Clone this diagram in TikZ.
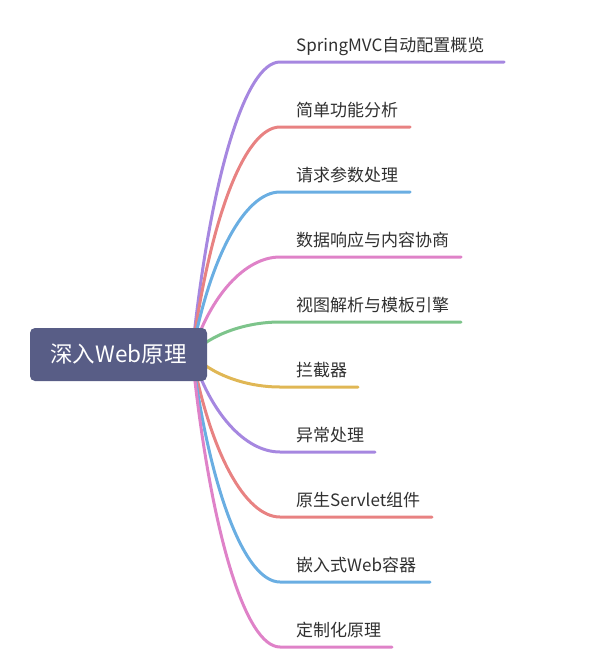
\documentclass[tikz,border=0pt]{standalone}
\usepackage{fontspec}
\setmainfont{Noto Sans CJK SC}
\usetikzlibrary{calc}
\definecolor{rootfill}{HTML}{585D86}
\definecolor{inkgray}{HTML}{303030}
\definecolor{cpurple}{HTML}{A687E0}
\definecolor{cred}{HTML}{E88282}
\definecolor{cblue}{HTML}{6AAEE2}
\definecolor{cpink}{HTML}{DF82C8}
\definecolor{cgreen}{HTML}{7DC48B}
\definecolor{cyellow}{HTML}{E0B755}
\tikzset{
  topic/.style={anchor=base west, inner sep=0pt, text=inkgray, font=\fontsize{17}{20}\selectfont},
  twigline/.style={line width=3pt, line cap=round},
  rootbox/.style={fill=rootfill, rounded corners=5pt, minimum width=177pt, minimum height=53pt,
    inner sep=0pt, text=white, font=\fontsize{22.5}{26}\selectfont},
}
% name, y of underline, x of its end, colour, text
\def\twig(#1,#2:#3)[#4]#5{%
  \coordinate (#1s) at (280,#2);
  \coordinate (#1e) at (#3,#2);
  \node[topic] (#1) at (296,#2-10.5) {#5};
  \draw[twigline, color=#4] (hub) .. controls (210,{354+(#2-354)*0.6}) and (245,#2) .. (#1s) -- (#1e);
}

\begin{document}
\begin{tikzpicture}[x=1pt, y=-1pt]
  \useasboundingbox (0,0) rectangle (593,659);

  \coordinate (hub) at (192,354);

  \twig(mvc,62:504)[cpurple]{SpringMVC自动配置概览}
  \twig(func,127:410)[cred]{简单功能分析}
  \twig(param,192:410)[cblue]{请求参数处理}
  \twig(resp,257:461)[cpink]{数据响应与内容协商}
  \twig(view,322:461)[cgreen]{视图解析与模板引擎}
  \twig(intc,387:358)[cyellow]{拦截器}
  \twig(excp,452:375)[cpurple]{异常处理}
  \twig(servlet,517:432)[cred]{原生Servlet组件}
  \twig(embed,582:430)[cblue]{嵌入式Web容器}
  \twig(custom,647:392)[cpink]{定制化原理}

  \node[rootbox] (root) at (118.5,354.5) {深入Web原理};
\end{tikzpicture}
\end{document}
